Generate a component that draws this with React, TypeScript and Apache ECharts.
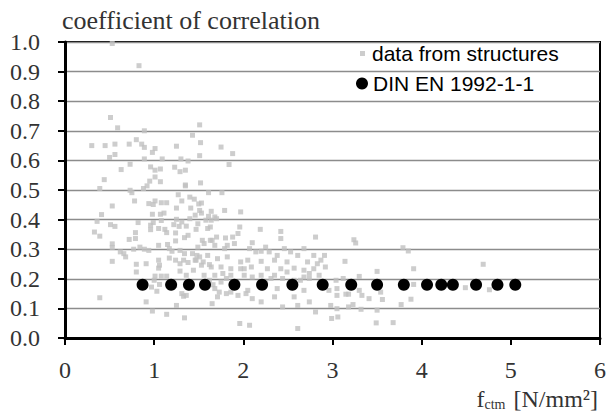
import React, { useEffect, useRef } from "react";
import * as echarts from "echarts";

const xTicks = [0, 1, 2, 3, 4, 5, 6];
const yTicks = [0, 0.1, 0.2, 0.3, 0.4, 0.5, 0.6, 0.7, 0.8, 0.9, 1.0];
const seriesNames = ["data from structures", "DIN EN 1992-1-1"];
const xAxisTitle = "{f|f}{s|ctm}{f| [N/mm²]}";
const yAxisTitle = "coefficient of correlation";

// data from structures: [fctm, coefficient of correlation]
const structurePoints: [number, number][] = [
  [0.53, 0.995], [0.83, 0.92], [0.51, 0.745], [0.59, 0.71], [0.89, 0.7], [1.51, 0.72], [1.43, 0.685],
  [0.3, 0.65], [0.45, 0.65], [0.56, 0.655], [0.72, 0.655], [0.8, 0.67], [0.86, 0.655], [0.89, 0.644],
  [1.01, 0.64], [0.98, 0.627], [1.25, 0.648], [1.52, 0.66], [0.5, 0.61], [0.56, 0.62], [0.89, 0.605],
  [1.09, 0.605], [1.3, 0.605], [1.38, 0.598], [1.51, 0.616], [0.63, 0.569], [0.73, 0.587], [0.96, 0.578],
  [1.07, 0.571], [1.01, 0.567], [1.23, 0.577], [1.29, 0.562], [1.35, 0.567], [0.44, 0.535], [0.95, 0.53],
  [1.01, 0.544], [1.07, 0.528], [1.35, 0.517], [1.52, 0.524],
  [1.75, 0.645], [1.88, 0.623], [1.84, 0.586], [1.61, 0.491], [1.76, 0.491], [1.53, 0.456], [1.64, 0.428],
  [1.79, 0.431], [1.97, 0.426], [1.53, 0.422], [1.61, 0.411], [1.58, 0.398], [1.7, 0.403], [1.68, 0.409],
  [1.64, 0.398], [1.51, 0.431],
  [0.39, 0.505], [0.73, 0.499], [0.75, 0.491], [0.88, 0.505], [0.92, 0.514], [0.53, 0.446], [0.78, 0.463],
  [0.94, 0.454], [1.01, 0.463], [1.08, 0.457], [1.14, 0.457], [0.99, 0.451], [1.27, 0.484], [1.31, 0.463],
  [1.4, 0.476], [1.45, 0.469], [1.35, 0.514], [1.25, 0.439], [1.41, 0.439], [1.5, 0.453], [0.41, 0.417],
  [0.36, 0.394], [0.82, 0.39], [0.98, 0.418], [1.07, 0.418], [1.11, 0.422], [0.99, 0.39], [1.08, 0.397],
  [1.25, 0.401], [1.31, 0.392], [1.4, 0.403], [1.46, 0.415], [0.51, 0.383], [0.56, 0.377], [0.96, 0.381],
  [0.96, 0.366], [1.05, 0.37], [1.12, 0.367], [1.22, 0.383], [1.28, 0.377], [1.36, 0.378], [1.49, 0.386],
  [0.33, 0.358], [0.39, 0.344], [0.79, 0.356], [0.72, 0.333], [0.79, 0.336], [1.14, 0.356], [1.24, 0.355],
  [1.34, 0.339], [1.38, 0.347], [1.47, 0.367], [1.24, 0.328], [0.53, 0.318], [0.53, 0.306], [0.62, 0.291],
  [0.66, 0.285], [0.68, 0.274], [0.77, 0.3], [0.84, 0.307], [0.89, 0.3], [0.94, 0.296], [1.05, 0.313],
  [1.15, 0.316], [1.17, 0.302], [1.2, 0.293], [1.29, 0.296], [1.34, 0.285], [1.43, 0.285], [1.48, 0.279],
  [0.53, 0.259], [0.8, 0.249], [0.91, 0.251], [1.05, 0.263], [1.06, 0.246], [1.17, 0.27], [1.24, 0.263],
  [1.29, 0.251], [1.33, 0.263], [1.38, 0.255], [1.46, 0.263], [0.8, 0.223], [1.05, 0.236], [1.01, 0.209],
  [1.08, 0.209], [1.14, 0.209], [1.29, 0.226], [1.36, 0.212], [1.44, 0.229], [1.0, 0.195], [1.06, 0.181],
  [0.97, 0.172], [1.23, 0.178], [1.03, 0.158], [1.31, 0.15], [1.33, 0.141], [1.36, 0.144], [0.39, 0.136],
  [0.91, 0.122], [1.25, 0.11], [0.98, 0.091], [1.14, 0.08], [1.34, 0.068],
  [1.6, 0.37], [1.94, 0.353], [2.19, 0.367], [2.42, 0.36], [2.42, 0.336], [2.81, 0.341], [1.49, 0.307],
  [1.56, 0.319], [1.63, 0.33], [1.68, 0.313], [1.79, 0.302], [1.82, 0.313], [1.9, 0.319], [2.1, 0.322],
  [2.07, 0.302], [2.14, 0.291], [2.25, 0.307], [2.29, 0.291], [2.38, 0.279], [2.46, 0.302], [2.53, 0.291],
  [2.61, 0.279], [2.68, 0.302], [2.79, 0.279], [2.87, 0.263], [1.51, 0.274], [1.6, 0.279], [1.71, 0.268],
  [1.82, 0.274], [1.97, 0.257], [2.05, 0.263], [2.2, 0.259], [2.35, 0.263], [2.49, 0.257], [2.72, 0.257],
  [2.83, 0.251], [1.53, 0.246], [1.64, 0.24], [1.75, 0.24], [1.86, 0.234], [1.97, 0.234], [2.09, 0.24],
  [2.27, 0.234], [2.42, 0.234], [2.57, 0.236], [2.68, 0.229], [2.79, 0.234], [2.92, 0.24], [1.68, 0.212],
  [1.77, 0.218], [2.01, 0.212], [2.1, 0.206], [2.35, 0.212], [2.44, 0.201], [2.68, 0.206], [2.74, 0.201],
  [1.68, 0.167], [1.73, 0.155], [1.81, 0.15], [1.71, 0.139], [1.65, 0.116], [1.94, 0.144], [2.1, 0.133],
  [2.2, 0.122], [2.35, 0.139], [2.44, 0.105], [2.57, 0.139], [2.61, 0.11], [2.74, 0.122], [2.81, 0.088],
  [2.05, 0.161], [2.38, 0.167], [2.68, 0.161], [1.96, 0.049], [2.07, 0.043], [2.61, 0.032],
  [1.54, 0.33], [1.65, 0.33], [1.7, 0.341], [1.8, 0.338], [1.88, 0.341], [1.96, 0.375], [1.63, 0.375],
  [2.2, 0.293], [1.47, 0.263], [1.55, 0.257], [1.62, 0.248], [1.56, 0.212], [1.62, 0.195], [1.66, 0.18],
  [1.75, 0.189], [1.81, 0.201], [1.86, 0.212], [1.9, 0.184], [2.01, 0.234], [2.2, 0.212], [2.25, 0.189],
  [2.31, 0.201], [2.49, 0.223], [2.57, 0.195], [2.64, 0.195], [2.74, 0.218], [2.85, 0.212], [2.89, 0.184],
  [1.86, 0.155], [2.03, 0.15],
  [3.24, 0.332], [3.26, 0.321], [3.79, 0.305], [3.85, 0.294], [2.91, 0.279], [3.14, 0.259], [3.5, 0.225],
  [3.91, 0.234], [4.69, 0.249], [3.3, 0.208], [3.04, 0.195], [3.12, 0.201], [3.91, 0.181], [2.96, 0.161],
  [3.05, 0.167], [3.05, 0.144], [3.15, 0.148], [3.18, 0.148], [3.3, 0.161], [3.33, 0.144], [3.54, 0.155],
  [4.49, 0.17], [4.76, 0.163], [3.41, 0.133], [3.56, 0.13], [3.88, 0.131], [2.98, 0.11], [3.05, 0.099],
  [3.18, 0.105], [3.23, 0.113], [3.32, 0.097], [3.5, 0.094], [3.77, 0.113], [2.99, 0.066], [3.06, 0.071],
  [3.49, 0.051], [3.68, 0.052],
];

// DIN EN 1992-1-1 values
const dinX = [0.87, 1.19, 1.39, 1.57, 1.9, 2.21, 2.55, 2.89, 3.21, 3.5, 3.8, 4.06, 4.22, 4.35, 4.61, 4.85, 5.05];
const dinY = [0.18, 0.18, 0.18, 0.18, 0.18, 0.18, 0.18, 0.18, 0.18, 0.18, 0.18, 0.18, 0.18, 0.18, 0.18, 0.18, 0.18];

const serif = "Liberation Serif";
const sans = "Liberation Sans";

export default function App() {
  const ref = useRef<HTMLDivElement>(null);
  useEffect(() => {
    if (!ref.current) return;
    const chart = echarts.init(ref.current, null, { renderer: "svg" });
    chart.setOption({
      animation: false,
      backgroundColor: "#ffffff",
      textStyle: { fontFamily: serif },
      title: [
        {
          text: yAxisTitle, left: 57, top: 2,
          textStyle: { fontFamily: serif, fontSize: 26, fontWeight: "normal", color: "#333" },
        },
        {
          text: xAxisTitle, right: 8, top: 382,
          textStyle: {
            fontFamily: serif, fontSize: 24, fontWeight: "normal", color: "#333",
            rich: {
              f: { fontFamily: serif, fontSize: 24, color: "#333" },
              s: { fontFamily: serif, fontSize: 14, color: "#333", verticalAlign: "bottom", padding: [6, 2, 0, 0] },
            },
          },
        },
      ],
      grid: {
        left: 65, right: 11, top: 42, bottom: 76,
        containLabel: false,
        outerBoundsMode: "none",
        show: true, borderColor: "#000", borderWidth: 2, backgroundColor: "transparent",
      },
      legend: [
        {
          data: [{ name: seriesNames[0], icon: "rect" }],
          orient: "vertical", left: 355, top: 38,
          itemWidth: 5, itemHeight: 5,
          textStyle: { fontFamily: sans, fontSize: 21, color: "#000", padding: [0, 0, 0, 2] },
          itemStyle: { color: "#c0c0c0" },
        },
        {
          data: [{ name: seriesNames[1], icon: "circle" }],
          orient: "vertical", left: 351, top: 68,
          itemWidth: 12, itemHeight: 12,
          textStyle: { fontFamily: sans, fontSize: 21, color: "#000", padding: [0, 0, 0, 0] },
          itemStyle: { color: "#000" },
        },
      ],
      xAxis: {
        type: "value", min: xTicks[0], max: xTicks[xTicks.length - 1], interval: 1,
        axisLine: { show: true, onZero: false, lineStyle: { color: "#000", width: 3 } },
        axisTick: { show: true, inside: false, length: 7, lineStyle: { color: "#000", width: 2 } },
        axisLabel: { fontFamily: serif, fontSize: 24, color: "#333", margin: 20 },
        splitLine: { show: false },
      },
      yAxis: {
        type: "value", min: yTicks[0], max: yTicks[yTicks.length - 1], interval: 0.1,
        axisLine: { show: true, lineStyle: { color: "#000", width: 3 } },
        axisTick: { show: true, inside: false, length: 7, lineStyle: { color: "#000", width: 2 } },
        axisLabel: {
          fontFamily: serif, fontSize: 24, color: "#333", margin: 25,
          formatter: (v: number) => v.toFixed(1),
        },
        splitLine: { show: true, lineStyle: { color: "#8c8c8c", width: 1.3 } },
      },
      series: [
        {
          name: seriesNames[0], type: "scatter", symbol: "rect", symbolSize: 5,
          itemStyle: { color: "#c0c0c0" },
          data: structurePoints,
          z: 2,
        },
        {
          name: seriesNames[1], type: "scatter", symbol: "circle", symbolSize: 12,
          itemStyle: { color: "#000", opacity: 1 },
          data: dinX.map((x, i) => [x, dinY[i]]),
          z: 3,
        },
      ],
    });
    return () => chart.dispose();
  }, []);
  return (
    <div
      ref={ref}
      style={{ position: "fixed", left: 0, top: 0, width: 611, height: 414, background: "#fff" }}
    />
  );
}
